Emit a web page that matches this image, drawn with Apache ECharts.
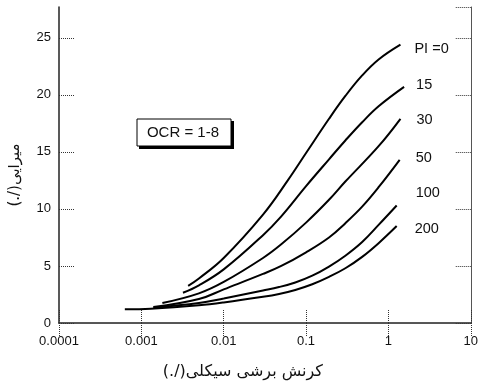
<!DOCTYPE html>
<html>
<head>
<meta charset="utf-8">
<script src="https://cdn.jsdelivr.net/npm/echarts@6/dist/echarts.min.js"></script>
<style>
  html, body { margin: 0; padding: 0; background: #fff; }
  #chart { width: 481px; height: 385px; }
</style>
</head>
<body>
<div id="chart"></div>
<script>
// shear strain (%) and damping ratio (%), one pair per PI curve
const piLabels = ['PI =0', '15', '30', '50', '100', '200']

const strainPI0 = [0.0037, 0.005, 0.01, 0.03, 0.06, 0.1, 0.19, 0.3, 0.48, 0.76, 1.4]
const dampPI0 = [3.25, 3.9, 5.7, 9.5, 12.5, 14.9, 17.9, 19.9, 21.7, 23.1, 24.4]

const strainPI15 = [0.0032, 0.005, 0.01, 0.03, 0.05, 0.1, 0.19, 0.3, 0.48, 0.76, 1.55]
const dampPI15 = [2.65, 3.3, 4.7, 7.7, 9.35, 12.0, 14.35, 16.0, 17.6, 19.0, 20.7]

const strainPI30 = [0.0018, 0.005, 0.01, 0.03, 0.05, 0.1, 0.19, 0.3, 0.76, 1.4]
const dampPI30 = [1.75, 2.6, 3.6, 5.7, 6.9, 8.8, 10.8, 12.4, 15.5, 17.9]

const strainPI50 = [0.0014, 0.005, 0.01, 0.03, 0.05, 0.1, 0.19, 0.3, 0.48, 0.76, 1.37]
const dampPI50 = [1.4, 2.1, 2.95, 4.3, 5.0, 6.2, 7.5, 8.75, 10.2, 11.9, 14.3]

const strainPI100 = [0.0014, 0.005, 0.01, 0.03, 0.047, 0.074, 0.119, 0.19, 0.3, 0.48, 0.76, 1.26]
const dampPI100 = [1.35, 1.75, 2.15, 2.85, 3.15, 3.55, 4.15, 4.95, 5.9, 7.1, 8.6, 10.3]

const strainPI200 = [0.00063, 0.0013, 0.005, 0.01, 0.03, 0.047, 0.074, 0.119, 0.19, 0.3, 0.48, 0.76, 1.26]
const dampPI200 = [1.2, 1.25, 1.55, 1.8, 2.3, 2.55, 2.9, 3.4, 4.05, 4.8, 5.8, 7.0, 8.5]

const xTicks = [0.0001, 0.001, 0.01, 0.1, 1, 10]
const yTicks = [0, 5, 10, 15, 20, 25]

const curves = [
  [strainPI0, dampPI0],
  [strainPI15, dampPI15],
  [strainPI30, dampPI30],
  [strainPI50, dampPI50],
  [strainPI100, dampPI100],
  [strainPI200, dampPI200],
]
// where each PI label sits relative to its curve end
const labelOffsets = [[6, 4], [4, -2], [8, 1], [8, -2], [11, -12], [10, 3]]

const el = document.getElementById('chart')
const chart = echarts.init(el)

const font = 'Liberation Sans, Arial, sans-serif'
const dotted = { color: '#333', type: 'dotted', width: 1 }

const option = {
  animation: false,
  grid: { left: 59, right: 9, top: 7, bottom: 62 },
  xAxis: [
    {
      type: 'log', logBase: 10, min: 0.0001, max: 10,
      name: '(./)کرنش برشی سیکلی',
      nameLocation: 'middle', nameGap: 41,
      nameTextStyle: { fontFamily: 'DejaVu Sans', fontSize: 16, color: '#111', padding: [0, 44, 0, 0] },
      axisLine: { lineStyle: { color: '#222', width: 1.5 } },
      axisTick: { inside: true, length: 13, lineStyle: dotted },
      minorTick: { show: false },
      axisLabel: {
        color: '#111', fontSize: 13, fontFamily: font, margin: 12,
        formatter: v => xTicks.find(t => Math.abs(t - v) / t < 1e-6) !== undefined ? String(v) : ''
      },
      splitLine: { show: false },
    },
    {
      type: 'log', logBase: 10, min: 0.0001, max: 10, position: 'top',
      axisLine: { lineStyle: { color: '#555', width: 1 } },
      axisTick: { inside: true, length: 13, lineStyle: dotted },
      axisLabel: { show: false },
      splitLine: { show: false },
    },
  ],
  yAxis: [
    {
      type: 'value', min: 0, max: 27.7, interval: 5,
      name: '(./)میرایی',
      nameLocation: 'middle', nameGap: 36,
      nameTextStyle: { fontFamily: 'DejaVu Sans', fontSize: 15, color: '#111', padding: [0, 20, 0, 0] },
      axisLine: { show: true, lineStyle: { color: '#222', width: 1.5 } },
      axisTick: { inside: true, length: 16, lineStyle: dotted },
      axisLabel: {
        color: '#111', fontSize: 13, fontFamily: font, margin: 8, showMaxLabel: false,
        formatter: v => yTicks.includes(v) ? String(v) : ''
      },
      splitLine: { show: false },
    },
    {
      type: 'value', min: 0, max: 27.7, interval: 5, position: 'right',
      axisLine: { show: true, lineStyle: { color: '#555', width: 1 } },
      axisTick: { inside: true, length: 15, lineStyle: dotted },
      axisLabel: { show: false },
      splitLine: { show: false },
    },
  ],
  series: curves.map(([xs, ys], i) => ({
    name: piLabels[i],
    type: 'line',
    smooth: 0.4,
    symbol: 'none',
    data: xs.map((x, j) => [x, ys[j]]),
    lineStyle: { color: '#000', width: 2 },
    endLabel: {
      show: true,
      formatter: piLabels[i],
      offset: labelOffsets[i],
      color: '#111', fontSize: 14.5, fontFamily: font,
    },
  })),
  graphic: [
    { type: 'rect', shape: { x: 139, y: 121, width: 95, height: 28 }, style: { fill: '#000' } },
    { type: 'rect', shape: { x: 137, y: 119, width: 94, height: 27 }, style: { fill: '#fff', stroke: '#000', lineWidth: 1 } },
    { type: 'text', x: 183, y: 133, style: { text: 'OCR = 1-8', fontSize: 15, fontFamily: font, fill: '#111', align: 'center', verticalAlign: 'middle' } },
  ],
}

chart.setOption(option, true)
window.addEventListener('resize', () => chart.resize())
</script>
</body>
</html>
